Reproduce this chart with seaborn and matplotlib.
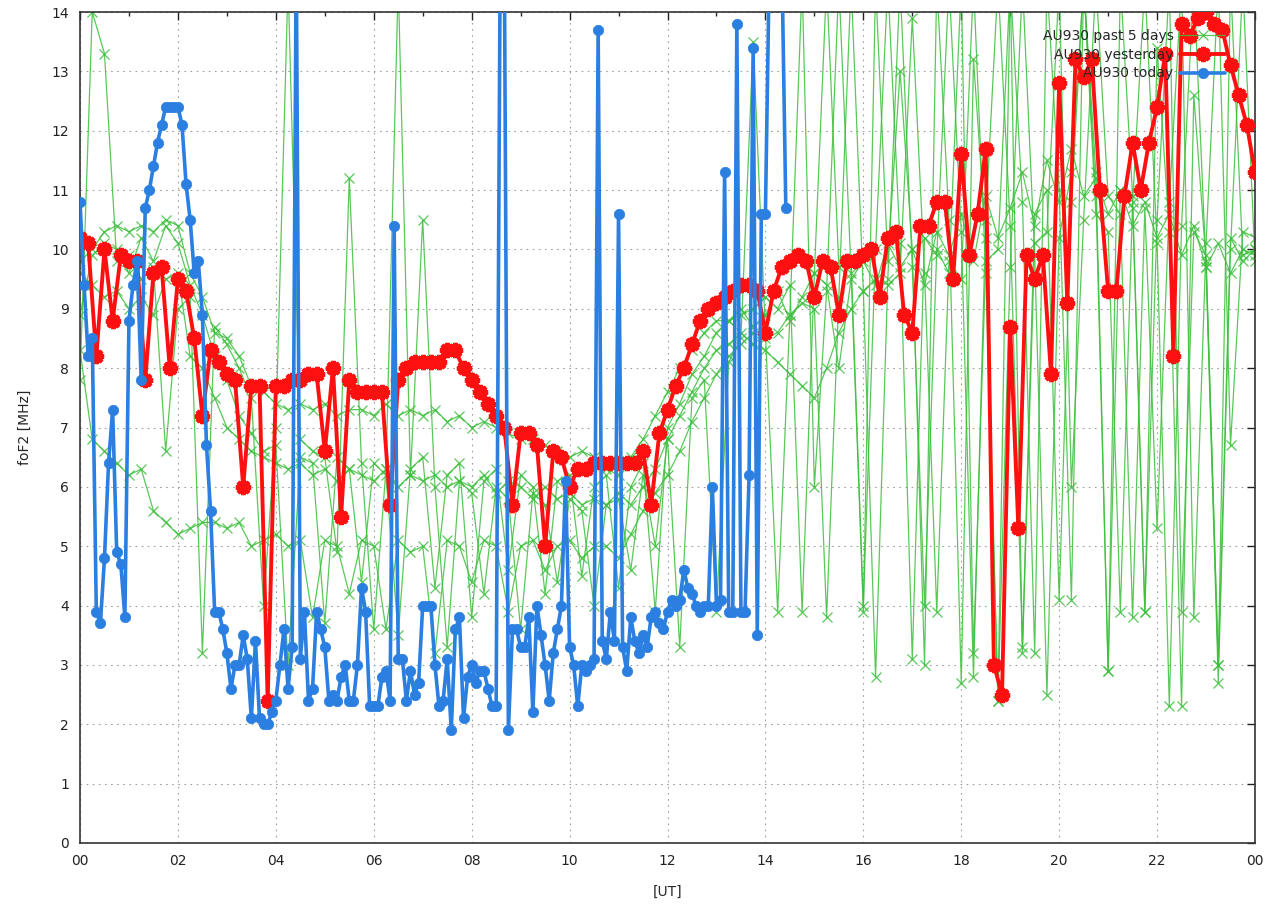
import numpy as np
import pandas as pd
import matplotlib
matplotlib.use("Agg")
import matplotlib.pyplot as plt
import seaborn as sns

# foF2 values, MHz. green days every 15 min, yesterday every 10 min, today every 5 min
past_day1 = [9.8, 10.0, 10.3, 10.4, 10.3, 10.4, 10.3, 10.5, 10.4, 9.6, 9.2, 8.6,
             8.5, 8.2, 7.7, 7.6, 7.4, 7.3, 7.4, 7.3, 7.4, 7.2, 7.3, 7.3,
             7.2, 7.4, 7.2, 7.3, 7.2, 7.3, 7.1, 7.2, 7.0, 7.1, 7.0, 6.9,
             6.8, 6.8, 6.7, 6.6, 6.5, 6.6, 6.5, 6.3, 6.2, 6.5, 6.8, 7.2,
             7.6, 8.0, 8.3, 8.6, 8.8, 8.8, 8.9, 9.0, 9.2, 9.0, 9.4, 3.9,
             9.6, 14.5, 9.7, 9.8, 4.0, 10.0, 14.5, 10.1, 3.1, 10.2, 9.9, 14.5,
             10.3, 2.8, 10.5, 14.5, 10.4, 3.3, 10.6, 11.0, 4.1, 10.8, 14.5, 10.9,
             2.9, 11.0, 10.7, 3.9, 10.5, 14.5, 3.9, 10.3, 9.9, 3.0, 10.2, 9.8, 10.0]
past_day2 = [9.6, 9.4, 9.2, 9.3, 9.0, 9.2, 8.9, 9.5, 9.6, 8.2, 8.0, 7.5,
             7.0, 6.8, 6.6, 6.5, 6.4, 6.3, 6.4, 6.2, 6.3, 6.1, 6.3, 6.2,
             6.1, 6.3, 6.0, 6.2, 6.1, 6.2, 6.0, 6.1, 6.0, 6.2, 5.9, 6.1,
             6.0, 5.8, 6.0, 5.8, 5.9, 5.7, 5.8, 5.7, 5.9, 5.7, 6.0, 6.3,
             6.8, 7.2, 7.6, 8.0, 8.3, 8.4, 8.6, 8.4, 8.3, 8.1, 7.9, 7.7,
             7.5, 8.0, 8.6, 9.0, 9.3, 9.5, 9.4, 9.6, 13.9, 9.6, 3.9, 9.8,
             9.5, 14.5, 9.6, 2.4, 9.7, 14.5, 9.9, 2.5, 10.2, 11.3, 14.5, 10.6,
             10.3, 3.9, 10.8, 14.5, 10.1, 2.3, 10.4, 14.5, 9.7, 2.7, 10.0, 14.5, 9.8]
past_day3 = [8.3, 6.8, 6.6, 6.4, 6.2, 6.3, 5.6, 5.4, 5.2, 5.3, 5.4, 5.4,
             5.3, 5.4, 5.0, 5.1, 5.2, 5.0, 5.1, 3.8, 5.1, 5.0, 4.2, 5.1,
             5.0, 3.6, 5.1, 4.9, 5.0, 3.2, 5.1, 5.0, 4.4, 5.1, 5.0, 3.9,
             5.0, 5.1, 4.6, 5.0, 5.1, 4.8, 5.0, 5.0, 4.8, 5.2, 5.6, 5.9,
             6.2, 6.6, 7.1, 7.5, 7.9, 8.2, 8.4, 8.6, 8.5, 8.6, 8.9, 9.1,
             9.0, 3.8, 9.2, 14.5, 9.3, 2.8, 9.5, 14.5, 9.7, 4.0, 10.0, 9.6,
             14.5, 3.2, 9.8, 10.0, 14.5, 3.2, 10.1, 10.3, 14.5, 6.0, 10.5, 14.5,
             10.9, 10.6, 3.8, 10.7, 5.3, 10.8, 14.5, 3.8, 10.1, 14.5, 6.7, 10.3, 10.2]
past_day4 = [7.8, 14.0, 13.3, 9.8, 9.9, 9.5, 9.7, 6.6, 9.0, 9.2, 3.2, 8.7,
             8.4, 8.0, 7.5, 4.0, 7.0, 14.5, 6.8, 6.6, 6.5, 4.9, 11.2, 6.4,
             3.6, 6.3, 14.5, 6.2, 10.5, 6.0, 3.3, 6.1, 5.9, 4.2, 6.0, 5.8,
             3.6, 5.9, 5.7, 4.4, 5.8, 5.6, 4.0, 5.7, 5.8, 4.6, 6.2, 5.0,
             6.8, 3.3, 7.5, 7.8, 3.9, 8.1, 8.5, 13.5, 8.6, 3.9, 8.9, 14.5,
             6.0, 9.3, 14.5, 9.6, 3.9, 14.5, 9.8, 13.0, 10.0, 3.0, 14.5, 10.5,
             2.7, 13.2, 10.2, 2.4, 14.5, 10.8, 3.2, 14.5, 11.0, 4.1, 14.5, 11.3,
             2.9, 14.5, 10.9, 3.9, 13.4, 10.3, 2.3, 12.6, 9.8, 3.0, 14.5, 9.9, 10.0]
past_day5 = [8.9, 9.9, 10.1, 10.0, 9.6, 10.2, 9.8, 10.4, 10.1, 9.4, 8.9, 8.2,
             7.8, 7.2, 6.9, 6.6, 6.7, 3.0, 6.5, 6.4, 3.7, 6.5, 6.3, 4.4,
             6.4, 6.2, 3.5, 6.3, 6.5, 4.3, 6.2, 6.4, 3.8, 6.1, 6.3, 4.6,
             6.2, 6.0, 4.2, 6.1, 6.2, 4.5, 6.0, 6.2, 4.3, 6.0, 6.4, 3.9,
             7.0, 7.4, 7.9, 8.2, 8.6, 8.8, 9.0, 8.7, 8.9, 9.3, 8.8, 9.2,
             9.6, 9.4, 8.0, 9.5, 9.8, 9.4, 10.1, 9.7, 10.0, 9.4, 10.3, 9.9,
             10.6, 9.8, 10.9, 10.2, 10.7, 11.3, 10.4, 11.5, 10.8, 11.7, 10.9, 11.2,
             10.6, 11.0, 10.4, 10.8, 10.2, 10.6, 9.9, 10.4, 9.7, 10.1, 9.6, 10.0, 9.9]

yesterday = [10.2, 10.1, 8.2, 10.0, 8.8, 9.9, 9.8, 9.8, 7.8, 9.6, 9.7, 8.0,
             9.5, 9.3, 8.5, 7.2, 8.3, 8.1, 7.9, 7.8, 6.0, 7.7, 7.7, 2.4,
             7.7, 7.7, 7.8, 7.8, 7.9, 7.9, 6.6, 8.0, 5.5, 7.8, 7.6, 7.6,
             7.6, 7.6, 5.7, 7.8, 8.0, 8.1, 8.1, 8.1, 8.1, 8.3, 8.3, 8.0,
             7.8, 7.6, 7.4, 7.2, 7.0, 5.7, 6.9, 6.9, 6.7, 5.0, 6.6, 6.5,
             6.0, 6.3, 6.3, 6.4, 6.4, 6.4, 6.4, 6.4, 6.4, 6.6, 5.7, 6.9,
             7.3, 7.7, 8.0, 8.4, 8.8, 9.0, 9.1, 9.2, 9.3, 9.4, 9.4, 9.3,
             8.6, 9.3, 9.7, 9.8, 9.9, 9.8, 9.2, 9.8, 9.7, 8.9, 9.8, 9.8,
             9.9, 10.0, 9.2, 10.2, 10.3, 8.9, 8.6, 10.4, 10.4, 10.8, 10.8, 9.5,
             11.6, 9.9, 10.6, 11.7, 3.0, 2.5, 8.7, 5.3, 9.9, 9.5, 9.9, 7.9,
             12.8, 9.1, 13.2, 12.9, 13.2, 11.0, 9.3, 9.3, 10.9, 11.8, 11.0, 11.8,
             12.4, 13.3, 8.2, 13.8, 13.6, 13.9, 14.0, 13.8, 13.7, 13.1, 12.6, 12.1, 11.3]

today = [10.8, 9.4, 8.2, 8.5, 3.9, 3.7, 4.8, 6.4, 7.3, 4.9, 4.7, 3.8,
         8.8, 9.4, 9.8, 7.8, 10.7, 11.0, 11.4, 11.8, 12.1, 12.4, 12.4, 12.4,
         12.4, 12.1, 11.1, 10.5, 9.6, 9.8, 8.9, 6.7, 5.6, 3.9, 3.9, 3.6,
         3.2, 2.6, 3.0, 3.0, 3.5, 3.1, 2.1, 3.4, 2.1, 2.0, 2.0, 2.2,
         2.4, 3.0, 3.6, 2.6, 3.3, 15.0, 3.1, 3.9, 2.4, 2.6, 3.9, 3.6,
         3.3, 2.4, 2.5, 2.4, 2.8, 3.0, 2.4, 2.4, 3.0, 4.3, 3.9, 2.3,
         2.3, 2.3, 2.8, 2.9, 2.4, 10.4, 3.1, 3.1, 2.4, 2.9, 2.5, 2.7,
         4.0, 4.0, 4.0, 3.0, 2.3, 2.4, 3.1, 1.9, 3.6, 3.8, 2.1, 2.8,
         3.0, 2.7, 2.9, 2.9, 2.6, 2.3, 2.3, 15.0, 15.0, 1.9, 3.6, 3.6,
         3.3, 3.3, 3.8, 2.2, 4.0, 3.5, 3.0, 2.4, 3.2, 3.6, 4.0, 6.1,
         3.3, 3.0, 2.3, 3.0, 2.9, 3.0, 3.1, 13.7, 3.4, 3.1, 3.9, 3.4,
         10.6, 3.3, 2.9, 3.8, 3.4, 3.2, 3.5, 3.3, 3.8, 3.9, 3.7, 3.6,
         3.9, 4.1, 4.0, 4.1, 4.6, 4.3, 4.2, 4.0, 3.9, 4.0, 4.0, 6.0,
         4.0, 4.1, 11.3, 3.9, 3.9, 13.8, 3.9, 3.9, 6.2, 13.4, 3.5, 10.6,
         10.6, 15.0, 15.0, 15.0, 15.0, 10.7]

past_days = [past_day1, past_day2, past_day3, past_day4, past_day5]
t_past = np.arange(len(past_day1)) / 4.0
t_yest = np.arange(len(yesterday)) / 6.0
t_today = np.arange(len(today)) / 12.0

hour_ticks = list(range(0, 25, 2))
hour_labels = ["00", "02", "04", "06", "08", "10", "12", "14", "16", "18", "20", "22", "00"]

sns.set_style("white")
plt.rcParams['font.family'] = ['DejaVu Sans']

fig = plt.figure(figsize=(12.69, 9.06), dpi=100)
ax = fig.add_axes([80 / 1269, 1 - 843 / 906, 1175 / 1269, 831 / 906])

green = "#3cbf3c"
red = "#ff1010"
blue = "#2a7fe0"

for day in past_days:
    df = pd.DataFrame({"ut": t_past, "fof2": day})
    sns.lineplot(data=df, x="ut", y="fof2", ax=ax, sort=False, estimator=None,
                 color=green, lw=0.9, marker="x", markersize=7, mew=0.9,
                 mec=green, alpha=0.85, zorder=2)

df_y = pd.DataFrame({"ut": t_yest, "fof2": yesterday})
sns.lineplot(data=df_y, x="ut", y="fof2", ax=ax, sort=False, estimator=None,
             color=red, lw=2.8, marker=(8, 2, 0), markersize=11, mew=3,
             mec=red, zorder=3)

df_t = pd.DataFrame({"ut": t_today, "fof2": today})
sns.lineplot(data=df_t, x="ut", y="fof2", ax=ax, sort=False, estimator=None,
             color=blue, lw=2.6, marker="o", markersize=7.5, mec=blue, mew=0.5,
             zorder=4)

ax.set_xlim(0, 24)
ax.set_ylim(0, 14)
ax.set_xticks(hour_ticks)
ax.set_xticklabels(hour_labels)
ax.set_xticks(range(0, 25), minor=True)
ax.set_yticks(range(0, 15))
ax.tick_params(direction="in", top=True, right=True, length=6, width=1,
               labelsize=10, colors="#222222", pad=8)
ax.tick_params(which="minor", direction="in", top=True, length=3, width=1)
ax.grid(True, which="major", color="#a0a0a0", lw=0.8, linestyle=(0, (1.5, 4)))
for s in ax.spines.values():
    s.set_color("#333333")
    s.set_linewidth(1.2)

ax.set_xlabel("[UT]", fontsize=10, labelpad=12)
ax.set_ylabel("foF2 [MHz]", fontsize=10, labelpad=14)

lines = ax.get_lines()
handles = [lines[0], lines[len(past_days)], lines[len(past_days) + 1]]
ax.legend(handles, ["AU930 past 5 days", "AU930 yesterday", "AU930 today"],
          loc="upper right", bbox_to_anchor=(0.985, 0.995), frameon=False,
          markerfirst=False, numpoints=1, handlelength=3.2, fontsize=10,
          labelspacing=0.35, handletextpad=0.5)

fig.savefig("out.png", dpi=100)
